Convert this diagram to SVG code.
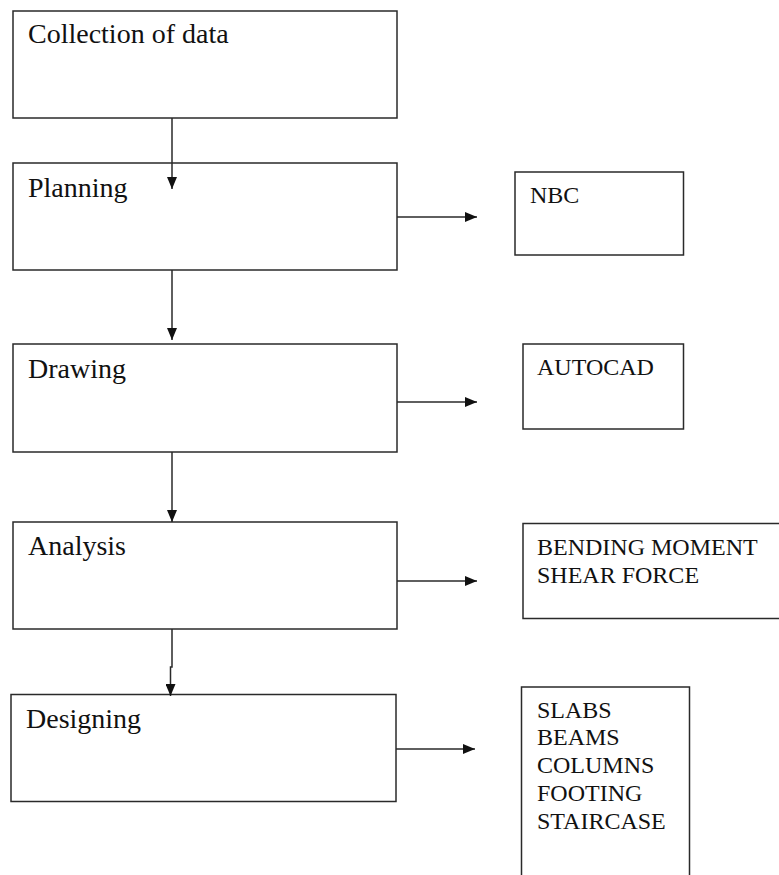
<svg xmlns="http://www.w3.org/2000/svg" width="779" height="875" viewBox="0 0 779 875">
<style>
.box{fill:#fff;stroke:#2a2a2a;stroke-width:1.5}
.main{font-family:"Liberation Serif","Times New Roman",serif;font-size:28px;fill:#111}
.side{font-family:"Liberation Serif","Times New Roman",serif;font-size:24px;fill:#111}
.conn{fill:none;stroke:#2a2a2a;stroke-width:1.5}
</style>
<defs>
<marker id="ah" viewBox="0 0 12 10" markerWidth="12" markerHeight="10" refX="12" refY="5" orient="auto" markerUnits="userSpaceOnUse">
<path d="M0,0 L12,5 L0,10 z" fill="#111"/>
</marker>
</defs>
<rect width="779" height="875" fill="#fff"/>
<g id="collection"><rect class="box" x="13" y="11" width="384" height="107"/><text class="main" x="28" y="43">Collection of data</text></g>
<g id="planning"><rect class="box" x="13" y="163" width="384" height="107"/><text class="main" x="28" y="197">Planning</text></g>
<g id="drawing"><rect class="box" x="13" y="344" width="384" height="108"/><text class="main" x="28" y="378">Drawing</text></g>
<g id="analysis"><rect class="box" x="13" y="522" width="384" height="107"/><text class="main" x="28" y="555">Analysis</text></g>
<g id="designing"><rect class="box" x="11" y="694.5" width="385" height="107"/><text class="main" x="26" y="728">Designing</text></g>
<g id="nbc"><rect class="box" x="515" y="172" width="168.5" height="83"/><text class="side" x="530" y="203">NBC</text></g>
<g id="autocad"><rect class="box" x="523" y="344" width="160.5" height="85"/><text class="side" x="537" y="375">AUTOCAD</text></g>
<g id="bending"><rect class="box" x="523" y="523.5" width="260" height="95"/><text class="side" x="537" y="554.5">BENDING MOMENT</text><text class="side" x="537" y="583">SHEAR FORCE</text></g>
<g id="elements"><rect class="box" x="521.5" y="687" width="168" height="200"/>
<text class="side" x="537" y="717.5">SLABS</text>
<text class="side" x="537" y="745">BEAMS</text>
<text class="side" x="537" y="773">COLUMNS</text>
<text class="side" x="537" y="801">FOOTING</text>
<text class="side" x="537" y="828.5">STAIRCASE</text></g>
<g id="connectors">
<path class="conn" d="M172,118 V189" marker-end="url(#ah)"/>
<path class="conn" d="M172,270 V340" marker-end="url(#ah)"/>
<path class="conn" d="M172,452 V522" marker-end="url(#ah)"/>
<path class="conn" d="M172,629 V667 H170.5 V696" marker-end="url(#ah)"/>
<path class="conn" d="M397,217 H477" marker-end="url(#ah)"/>
<path class="conn" d="M397,402 H477" marker-end="url(#ah)"/>
<path class="conn" d="M397,581 H477" marker-end="url(#ah)"/>
<path class="conn" d="M396,749 H475" marker-end="url(#ah)"/>
</g>
</svg>
